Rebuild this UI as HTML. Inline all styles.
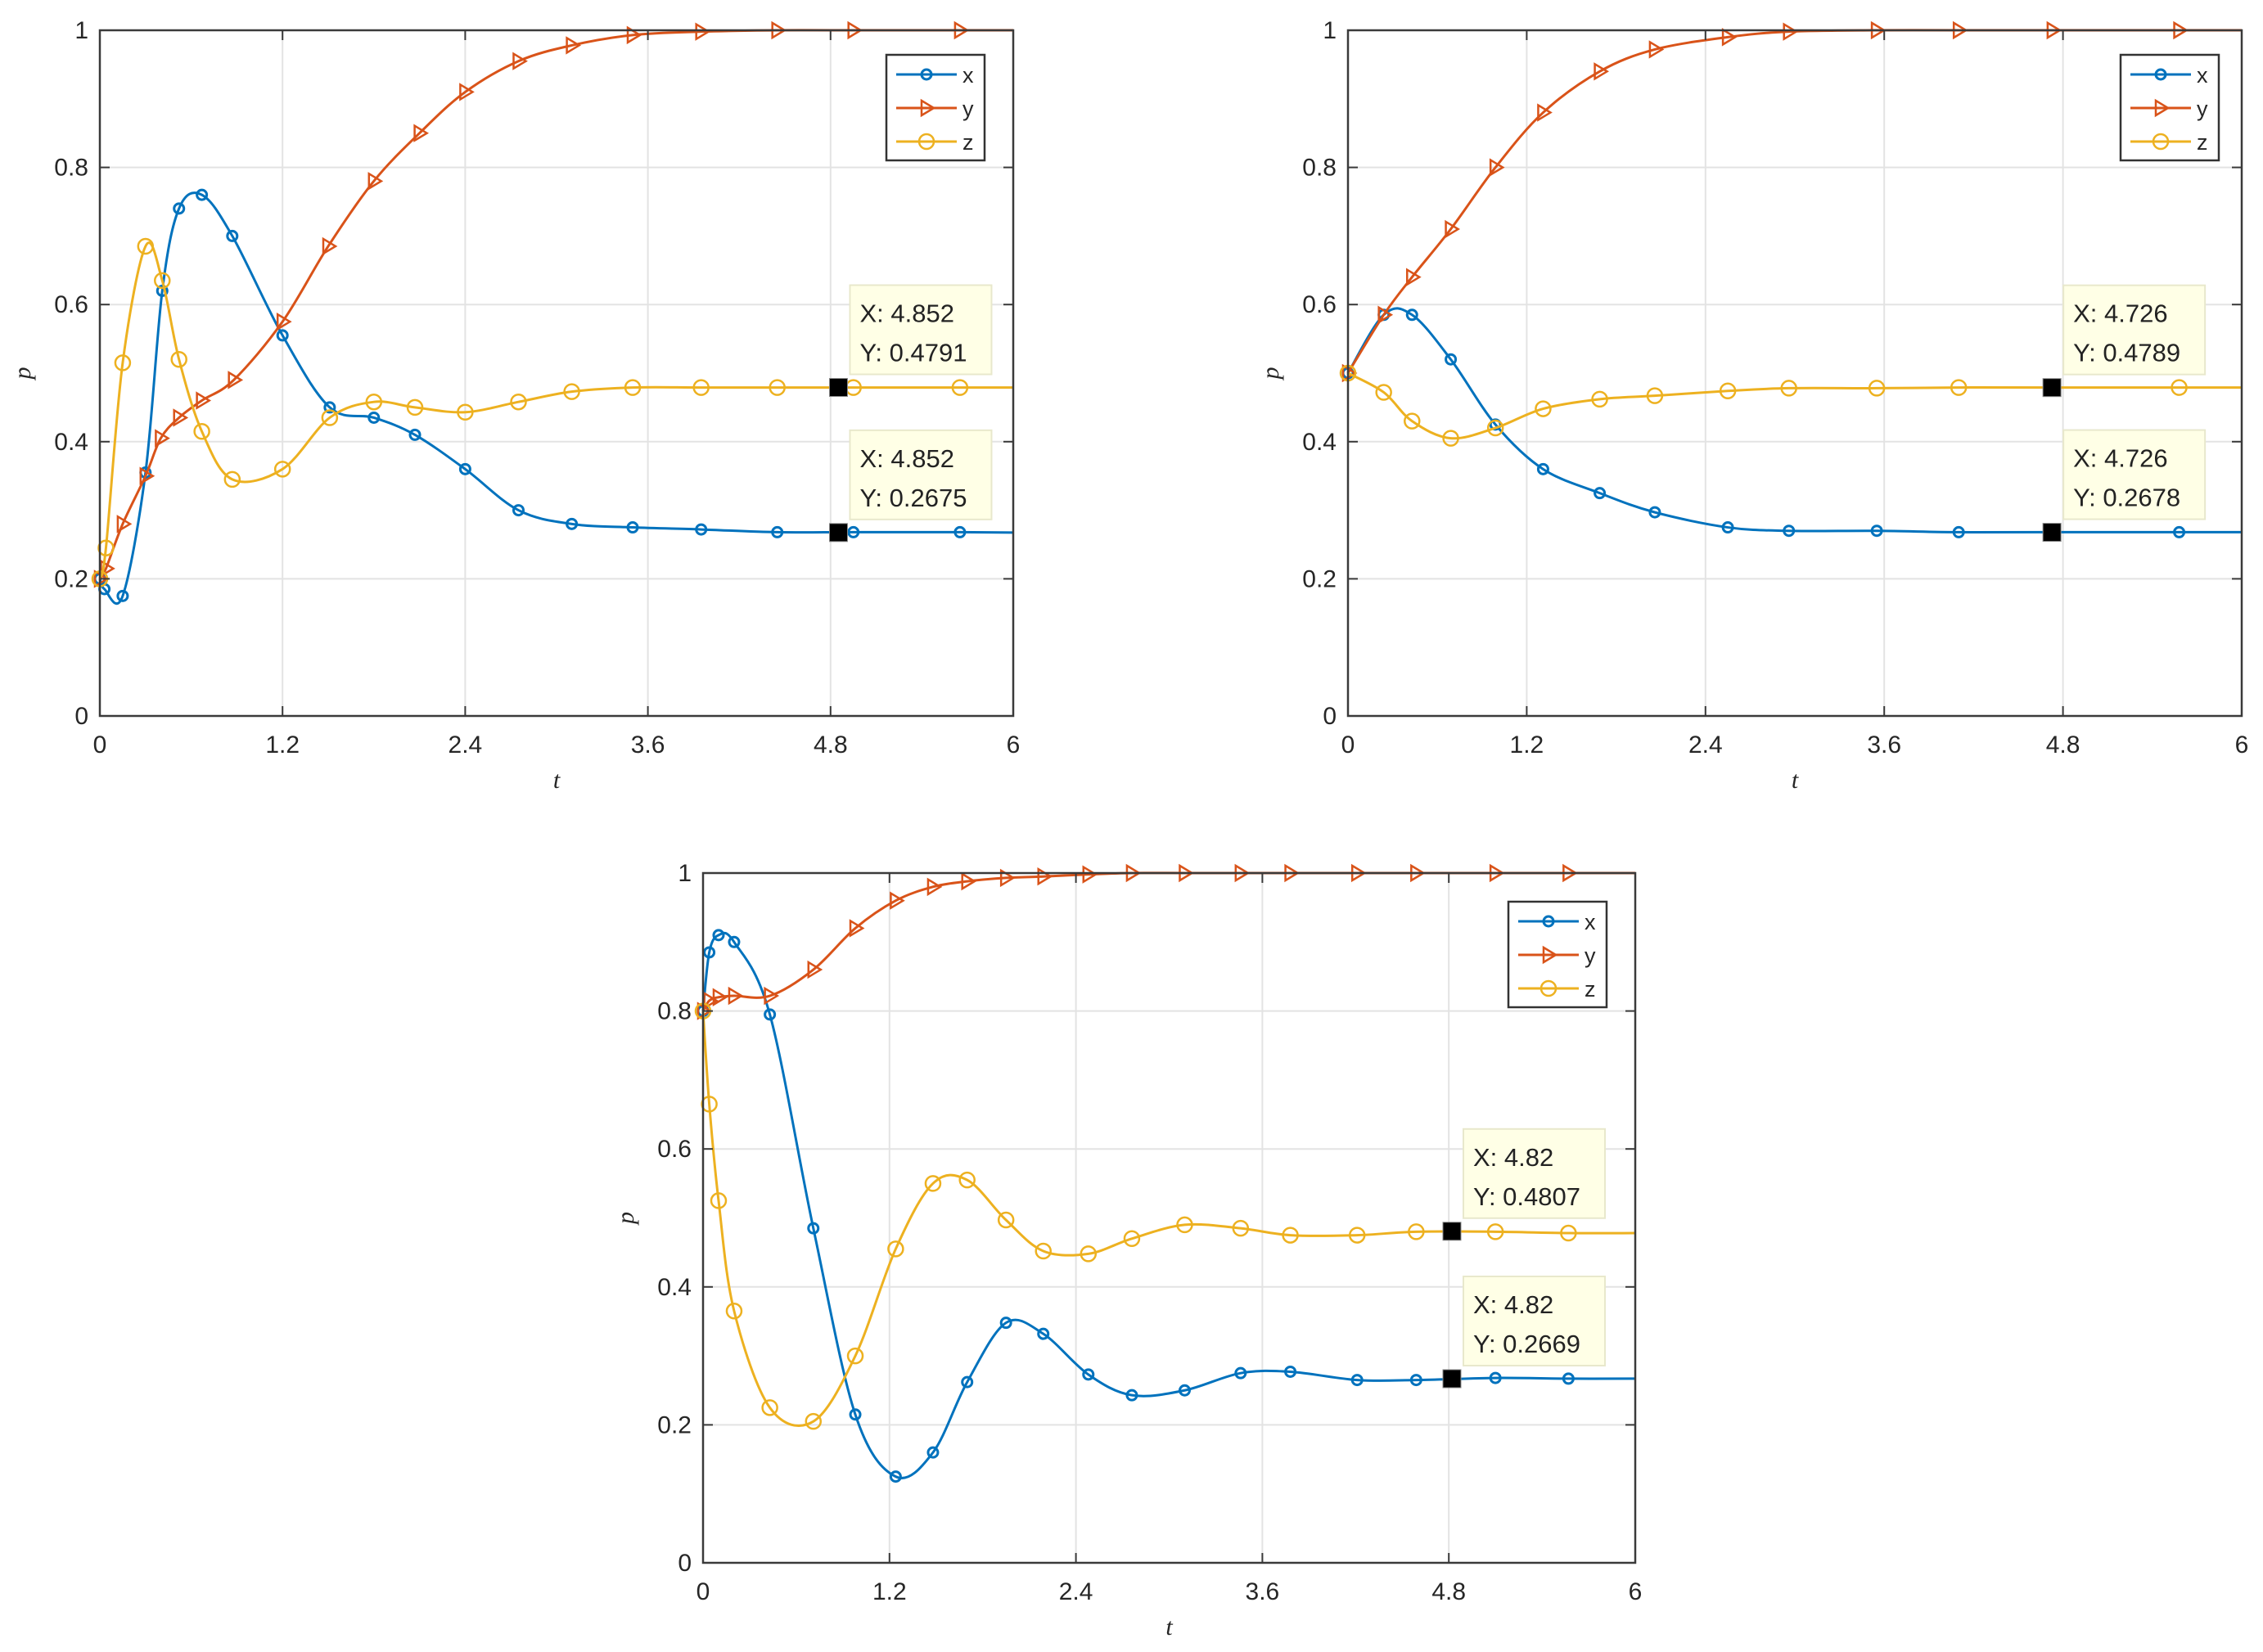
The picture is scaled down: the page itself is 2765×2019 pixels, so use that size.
<!DOCTYPE html>
<html><head><meta charset="utf-8"><style>
html,body{margin:0;padding:0;background:#fff;}
svg{display:block;}
</style></head><body>
<svg id="fig" width="2765" height="2019" viewBox="0 0 2765 2019" xmlns="http://www.w3.org/2000/svg" font-family="Liberation Sans, sans-serif"></svg>
<script>
// ---- data (t, value) ----
const p1_t_x = [0,0.03,0.15,0.3,0.41,0.52,0.67,0.87,1.2,1.51,1.8,2.07,2.4,2.75,3.1,3.5,3.95,4.45,4.95,5.65,6];
const p1_x   = [0.2,0.185,0.175,0.355,0.62,0.74,0.76,0.70,0.555,0.45,0.435,0.41,0.36,0.30,0.28,0.275,0.272,0.268,0.268,0.268,0.2675];
const p1_t_y = [0,0.04,0.15,0.3,0.4,0.52,0.67,0.88,1.2,1.5,1.8,2.1,2.4,2.75,3.1,3.5,3.95,4.45,4.95,5.65,6];
const p1_y   = [0.2,0.215,0.28,0.35,0.405,0.435,0.46,0.49,0.575,0.685,0.78,0.85,0.91,0.955,0.978,0.993,0.998,1,1,1,1];
const p1_t_z = [0,0.04,0.15,0.3,0.41,0.52,0.67,0.87,1.2,1.51,1.8,2.07,2.4,2.75,3.1,3.5,3.95,4.45,4.95,5.65,6];
const p1_z   = [0.2,0.245,0.515,0.685,0.635,0.52,0.415,0.345,0.36,0.435,0.458,0.45,0.443,0.458,0.473,0.479,0.479,0.479,0.479,0.479,0.479];

const p2_t   = [0,0.24,0.43,0.69,0.99,1.31,1.69,2.06,2.55,2.96,3.55,4.1,4.73,5.58,6];
const p2_x   = [0.5,0.585,0.585,0.52,0.425,0.36,0.325,0.297,0.275,0.27,0.27,0.268,0.268,0.268,0.268];
const p2_y   = [0.5,0.585,0.64,0.71,0.80,0.88,0.94,0.972,0.99,0.998,1,1,1,1,1];
const p2_z   = [0.5,0.472,0.43,0.405,0.42,0.448,0.462,0.467,0.474,0.478,0.478,0.479,0.479,0.479,0.479];

const p3_t   = [0,0.04,0.1,0.2,0.43,0.71,0.98,1.24,1.48,1.7,1.95,2.19,2.48,2.76,3.1,3.46,3.78,4.21,4.59,5.1,5.57,6];
const p3_x   = [0.8,0.885,0.91,0.9,0.795,0.485,0.215,0.125,0.16,0.262,0.348,0.332,0.273,0.243,0.25,0.275,0.277,0.265,0.265,0.268,0.267,0.267];
const p3_y   = [0.8,0.815,0.82,0.822,0.822,0.86,0.92,0.96,0.98,0.988,0.993,0.995,0.998,1,1,1,1,1,1,1,1,1];
const p3_z   = [0.8,0.665,0.525,0.365,0.225,0.205,0.30,0.455,0.55,0.555,0.497,0.452,0.448,0.47,0.49,0.485,0.475,0.475,0.48,0.48,0.478,0.478];

const xTicks = [0,1.2,2.4,3.6,4.8,6];
const xTickLabels = ["0","1.2","2.4","3.6","4.8","6"];
const yTicks = [0,0.2,0.4,0.6,0.8,1];
const yTickLabels = ["0","0.2","0.4","0.6","0.8","1"];
const tips1 = [[4.852,0.4791],[4.852,0.2675]];
const tips2 = [[4.726,0.4789],[4.726,0.2678]];
const tips3 = [[4.82,0.4807],[4.82,0.2669]];

const NS="http://www.w3.org/2000/svg";
const fig=document.getElementById('fig');
function mk(tag,attrs,parent){const e=document.createElementNS(NS,tag);for(const k in attrs)e.setAttribute(k,attrs[k]);(parent||fig).appendChild(e);return e;}
const COL={x:"#0072BD",y:"#D95319",z:"#EDB120"};

function smoothPath(pts){
  let d="M"+pts[0][0]+","+pts[0][1];
  for(let i=0;i<pts.length-1;i++){
    const p0=pts[Math.max(0,i-1)],p1=pts[i],p2=pts[i+1],p3=pts[Math.min(pts.length-1,i+2)];
    const c1=[p1[0]+(p2[0]-p0[0])/6,p1[1]+(p2[1]-p0[1])/6];
    const c2=[p2[0]-(p3[0]-p1[0])/6,p2[1]-(p3[1]-p1[1])/6];
    d+=" C"+c1[0]+","+c1[1]+" "+c2[0]+","+c2[1]+" "+p2[0]+","+p2[1];
  }
  return d;
}
function marker(kind,cx,cy,g){
  let m;
  if(kind==='x'){m=mk('circle',{cx:cx,cy:cy,r:6,fill:'none',stroke:COL.x,'stroke-width':3},g);}
  else if(kind==='y'){m=mk('polygon',{points:(cx-6)+","+(cy-9)+" "+(cx+9)+","+cy+" "+(cx-6)+","+(cy+9),fill:'none',stroke:COL.y,'stroke-width':2.5},g);}
  else {m=mk('circle',{cx:cx,cy:cy,r:9,fill:'none',stroke:COL.z,'stroke-width':2.5},g);}
  return m;
}

function panel(id,L,R,T,B,series,tips,legend){
  const g=mk('g',{});
  
  
  const sx=t=>L+(R-L)*t/6, sy=v=>B-(B-T)*v;
  mk('rect',{x:L,y:T,width:R-L,height:B-T,fill:'#fff'},g);
  // grid
  xTicks.forEach((t,i)=>{
    if(i>0&&i<xTicks.length-1){const l=mk('line',{x1:sx(t),x2:sx(t),y1:T,y2:B,stroke:'#e3e3e3','stroke-width':2},g);
    }
  });
  yTicks.forEach((v,i)=>{
    if(i>0&&i<yTicks.length-1){const l=mk('line',{x1:L,x2:R,y1:sy(v),y2:sy(v),stroke:'#e3e3e3','stroke-width':2},g);
    }
  });
  // series
  series.forEach(s=>{
    const pts=s.t.map((t,i)=>[sx(t),sy(s.v[i])]);
    const p=mk('path',{d:smoothPath(pts),fill:'none',stroke:COL[s.k],'stroke-width':3},g);
    
    
    s.t.forEach((t,i)=>{
      if(i===s.t.length-1)return;
      const m=marker(s.k,sx(t),sy(s.v[i]),g);
      
      
    });
  });
  // axes box
  const bx=mk('rect',{x:L,y:T,width:R-L,height:B-T,fill:'none',stroke:'#3a3a3a','stroke-width':2.5},g);
  
  xTicks.forEach((t,i)=>{
    mk('line',{x1:sx(t),x2:sx(t),y1:B,y2:B-12,stroke:'#3a3a3a','stroke-width':2},g);
    mk('line',{x1:sx(t),x2:sx(t),y1:T,y2:T+12,stroke:'#3a3a3a','stroke-width':2},g);
    const tx=mk('text',{x:sx(t),y:B+45,'font-size':30,'text-anchor':'middle',fill:'#262626'},g);
    tx.textContent=xTickLabels[i];
    
  });
  yTicks.forEach((v,i)=>{
    mk('line',{x1:L,x2:L+12,y1:sy(v),y2:sy(v),stroke:'#3a3a3a','stroke-width':2},g);
    mk('line',{x1:R,x2:R-12,y1:sy(v),y2:sy(v),stroke:'#3a3a3a','stroke-width':2},g);
    const tx=mk('text',{x:L-14,y:sy(v)+10,'font-size':30,'text-anchor':'end',fill:'#262626'},g);
    tx.textContent=yTickLabels[i];
    
  });
  const xl=mk('text',{x:(L+R)/2,y:B+88,'font-size':30,'font-style':'italic','font-family':'Liberation Serif, serif','text-anchor':'middle',fill:'#262626'},g);
  xl.textContent='t';
  const yl=mk('text',{x:0,y:0,'font-size':30,'font-style':'italic','font-family':'Liberation Serif, serif','text-anchor':'middle',fill:'#262626',transform:'translate('+(L-85)+','+((T+B)/2)+') rotate(-90)'},g);
  yl.textContent='p';
  // datatips
  tips.forEach(tp=>{
    const mx=sx(tp[0]),my=sy(tp[1]);
    const bxT=mk('rect',{x:mx+14,y:my-125,width:173,height:109,fill:'#ffffe6',stroke:'#e8e8cc','stroke-width':2},g);
    
    const t1=mk('text',{x:mx+26,y:my-80,'font-size':31,fill:'#222'},g);t1.textContent='X: '+tp[0];
    
    const t2=mk('text',{x:mx+26,y:my-32,'font-size':31,fill:'#222'},g);t2.textContent='Y: '+tp[1];
    
    const sq=mk('rect',{x:mx-11,y:my-11,width:22,height:22,fill:'#000',stroke:'#888','stroke-width':1},g);
    
  });
  // legend
  const lx=legend[0],ly=legend[1];
  const lb=mk('rect',{x:lx,y:ly,width:120,height:129,fill:'#fff',stroke:'#333','stroke-width':2.5},g);
  
  ['x','y','z'].forEach((k,i)=>{
    const yy=ly+24+i*41;
    const ln=mk('line',{x1:lx+12,x2:lx+86,y1:yy,y2:yy,stroke:COL[k],'stroke-width':3},g);
    
    marker(k,lx+49,yy,g);
    const tx=mk('text',{x:lx+93,y:yy+10,'font-size':27,fill:'#262626'},g);tx.textContent=k;
    
  });
}

panel('chart-top-left',122,1238,37,875,
  [{k:'x',t:p1_t_x,v:p1_x},{k:'y',t:p1_t_y,v:p1_y},{k:'z',t:p1_t_z,v:p1_z}],tips1,[1083,67]);
panel('chart-top-right',1647,2739,37,875,
  [{k:'x',t:p2_t,v:p2_x},{k:'y',t:p2_t,v:p2_y},{k:'z',t:p2_t,v:p2_z}],tips2,[2591,67]);
panel('chart-bottom',859,1998,1067,1910,
  [{k:'x',t:p3_t,v:p3_x},{k:'y',t:p3_t,v:p3_y},{k:'z',t:p3_t,v:p3_z}],tips3,[1843,1102]);
</script>
</body></html>
